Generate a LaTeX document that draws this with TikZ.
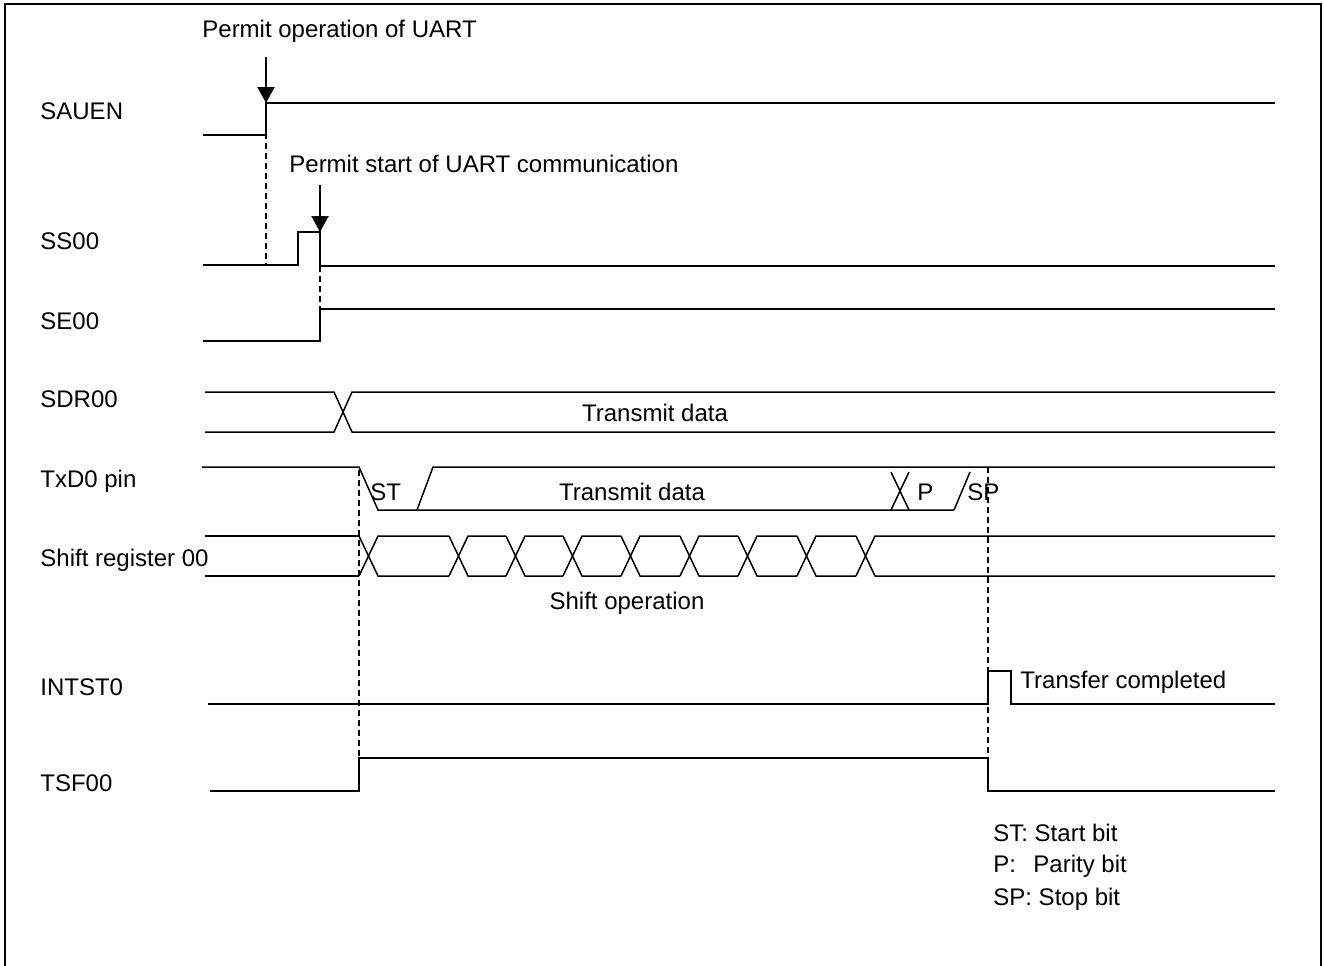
\documentclass[tikz,border=0pt]{standalone}
\usepackage{fontspec}
\setmainfont{Liberation Sans}
\usetikzlibrary{arrows.meta}
\begin{document}
\begin{tikzpicture}[x=0.5pt,y=-0.5pt,
  sig/.style={line width=0.75pt},
  dsh/.style={line width=0.65pt, dash pattern=on 3pt off 2pt},
  frame/.style={line width=1.3pt},
  arr/.style={line width=1.1pt, -{Triangle[length=8pt,width=8.5pt]}},
  txt/.style={anchor=base west, inner sep=0pt, font=\fontsize{12}{14}\selectfont},
  ctxt/.style={anchor=base, inner sep=0pt, font=\fontsize{12}{14}\selectfont}]
\useasboundingbox (0,0) rectangle (1324,965);
\draw[frame] (5,966) -- (5,4) -- (1321,4) -- (1321,966);

% labels
\node[txt] (lSAUEN) at (40,119.5) {SAUEN};
\node[txt] (lSS) at (40,249.5) {SS00};
\node[txt] (lSE) at (40,329.5) {SE00};
\node[txt] (lSDR) at (40,407.5) {SDR00};
\node[txt] (lTX) at (40,487.5) {TxD0 pin};
\node[txt] (lSR) at (40,566.5) {Shift register 00};
\node[txt] (lINT) at (40,695) {INTST0};
\node[txt] (lTSF) at (40,791) {TSF00};

% annotations
\node[txt] (t1) at (202,37.5) {Permit operation of UART};
\node[txt] (t2) at (289,172.5) {Permit start of UART communication};
\coordinate (a1s) at (266,57); \coordinate (a1e) at (266,103);
\coordinate (a2s) at (320,185); \coordinate (a2e) at (320,232);
\draw[arr] (a1s) -- (a1e);
\draw[arr] (a2s) -- (a2e);

% SAUEN
\draw[sig] (203,135) -- (266,135) -- (266,103) -- (1275,103);
% SS00
\draw[sig] (203,265) -- (298,265) -- (298,232) -- (320,232) -- (320,266) -- (1275,266);
% SE00
\draw[sig] (203,341) -- (320,341) -- (320,309) -- (1275,309);
% SDR00
\draw[sig] (205,392) -- (334,392) -- (352,432) -- (1275,432);
\draw[sig] (205,432) -- (334,432) -- (352,392) -- (1275,392);
\node[ctxt] (tdsdr) at (655,421.5) {Transmit data};

% TxD0
\draw[sig] (202,467) -- (359,467) -- (378,510) -- (954,510);
\draw[sig] (417,510) -- (433,467) -- (1275,467);
\draw[sig] (891,472) -- (909,510);
\draw[sig] (891,510) -- (909,472);
\draw[sig] (954,510) -- (970,472);
\node[txt] (tST) at (370,500.5) {ST};
\node[ctxt] (tdtx) at (632,500.5) {Transmit data};
\node[txt] (tP) at (917,500.5) {P};
\node[txt] (tSP) at (967,500.5) {SP};

% Shift register
\draw[sig] (205,536) -- (359,536);
\draw[sig] (205,576) -- (359,576);
\foreach \a/\b in {359/449,449/506,506/563,563/621,621/680,680/738,738/797,797/856}{
  \draw[sig] (\a,536) -- (\a+19,576) -- (\b,576);
  \draw[sig] (\a,576) -- (\a+19,536) -- (\b,536);
}
\draw[sig] (856,536) -- (875,576) -- (1275,576);
\draw[sig] (856,576) -- (875,536) -- (1275,536);
\node[ctxt] (tshift) at (627,609.5) {Shift operation};

% INTST0
\draw[sig] (208,704) -- (988,704) -- (988,671) -- (1011,671) -- (1011,704) -- (1275,704);
\node[txt] (ttc) at (1020,688.5) {Transfer completed};

% TSF00
\draw[sig] (210,791) -- (359,791) -- (359,758) -- (988,758) -- (988,791) -- (1275,791);

% dashed guides
\draw[dsh] (266,103) -- (266,265);
\draw[dsh] (320,266) -- (320,309);
\draw[dsh] (359,470) -- (359,758);
\draw[dsh] (988,467) -- (988,758);

% legend
\node[txt] (lg1) at (993,841) {ST: Start bit};
\node[txt] (lg2) at (993,872) {P:\hspace{8.7pt}Parity bit};
\node[txt] (lg3) at (993,905) {SP: Stop bit};
\end{tikzpicture}
\end{document}
